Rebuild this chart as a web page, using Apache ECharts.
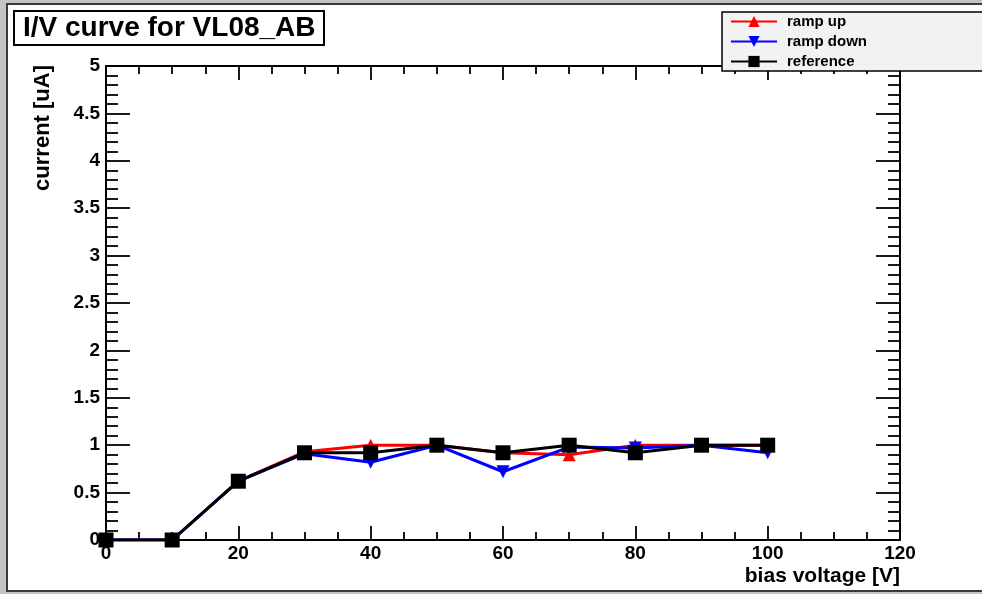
<!DOCTYPE html>
<html>
<head>
<meta charset="utf-8">
<script src="https://cdn.jsdelivr.net/npm/echarts@6/dist/echarts.min.js"></script>
<style>
html,body{margin:0;padding:0;background:#fff;}
#chart{width:982px;height:594px;}
</style>
</head>
<body>
<div id="chart"></div>
<script>
// ---- data ----
const voltage = [0, 10, 20, 30, 40, 50, 60, 70, 80, 90, 100];
const rampUp = [0, 0, 0.62, 0.93, 1.0, 1.0, 0.92, 0.9, 1.0, 1.0, 1.0];
const rampDown = [0, 0, 0.62, 0.91, 0.82, 1.0, 0.72, 0.98, 0.97, 1.0, 0.92];
const reference = [0, 0, 0.62, 0.92, 0.92, 1.0, 0.92, 1.0, 0.92, 1.0, 1.0];
const seriesNames = ['ramp up', 'ramp down', 'reference'];
const titleText = 'I/V curve for VL08_AB';
const xTitle = 'bias voltage [V]';
const yTitle = 'current [uA]';

const FONT = '"Liberation Sans", Arial, Helvetica, sans-serif';
const pairs = ys => voltage.map((v, i) => [v, ys[i]]);

const chart = echarts.init(document.getElementById('chart'), null, {renderer: 'canvas'});

const baseX = {
  type: 'value', min: 0, max: 120, interval: 20, gridIndex: 0,
  axisLine: {show: true, onZero: false, lineStyle: {color: '#000', width: 2}},
  axisTick: {show: true, inside: true, length: 14, lineStyle: {color: '#000', width: 1.8}},
  minorTick: {show: true, splitNumber: 4, length: 8, lineStyle: {color: '#000', width: 1.8}},
  splitLine: {show: false}
};
const baseY = {
  type: 'value', min: 0, max: 5, interval: 0.5, gridIndex: 0,
  axisLine: {show: true, onZero: false, lineStyle: {color: '#000', width: 2}},
  axisTick: {show: true, inside: true, length: 24, lineStyle: {color: '#000', width: 1.8}},
  minorTick: {show: true, splitNumber: 5, length: 12, lineStyle: {color: '#000', width: 1.8}},
  splitLine: {show: false}
};
const labelStyle = {color: '#000', fontFamily: FONT, fontWeight: 'bold', fontSize: 19};

chart.setOption({
  backgroundColor: '#c4c4c4',
  animation: false,
  title: {
    text: titleText, left: 14, top: 12,
    backgroundColor: '#fff', borderColor: '#000', borderWidth: 2,
    padding: [3, 9, 3, 9],
    textStyle: {color: '#000', fontFamily: FONT, fontWeight: 'bold', fontSize: 28, lineHeight: 26}
  },
  legend: {
    orient: 'vertical', left: 722, top: 12,
    backgroundColor: '#f2f2f2', borderColor: '#000', borderWidth: 1.5, borderRadius: 0,
    padding: [2, 140, 2, 8], itemGap: 5, itemWidth: 46, itemHeight: 14,
    textStyle: {color: '#000', fontFamily: FONT, fontWeight: 'bold', fontSize: 15, padding: [0, 0, 0, 5]},
    data: seriesNames
  },
  grid: {left: 106, top: 66, width: 794, height: 474, containLabel: false},
  xAxis: [
    Object.assign({}, baseX, {position: 'bottom', axisLabel: Object.assign({margin: 4}, labelStyle)}),
    Object.assign({}, baseX, {position: 'top', axisLabel: {show: false}})
  ],
  yAxis: [
    Object.assign({}, baseY, {position: 'left', axisLabel: Object.assign({margin: 6, formatter: v => String(v)}, labelStyle)}),
    Object.assign({}, baseY, {position: 'right', axisLabel: {show: false}})
  ],
  graphic: [
    {type: 'rect', z: -100, shape: {x: 7, y: 4, width: 980, height: 587},
     style: {fill: '#ffffff', stroke: '#3a3a3a', lineWidth: 2}},
    {type: 'text', right: 82, top: 566,
     style: {text: xTitle, fill: '#000', font: 'bold 21px ' + FONT, textAlign: 'right'}},
    {type: 'text', left: 32, top: 65, rotation: Math.PI / 2,
     style: {text: yTitle, fill: '#000', font: 'bold 22px ' + FONT}}
  ],
  series: [
    {name: seriesNames[0], type: 'line', data: pairs(rampUp), xAxisIndex: 0, yAxisIndex: 0,
     color: '#ff0000', lineStyle: {width: 3, color: '#ff0000'},
     symbol: 'triangle', symbolSize: 13, itemStyle: {color: '#ff0000'}, z: 2},
    {name: seriesNames[1], type: 'line', data: pairs(rampDown), xAxisIndex: 0, yAxisIndex: 0,
     color: '#0000ff', lineStyle: {width: 3, color: '#0000ff'},
     symbol: 'triangle', symbolRotate: 180, symbolSize: 13, itemStyle: {color: '#0000ff'}, z: 3},
    {name: seriesNames[2], type: 'line', data: pairs(reference), xAxisIndex: 0, yAxisIndex: 0,
     color: '#000000', lineStyle: {width: 3, color: '#000000'},
     symbol: 'rect', symbolSize: 15, itemStyle: {color: '#000000'}, z: 4}
  ]
});
</script>
</body>
</html>
